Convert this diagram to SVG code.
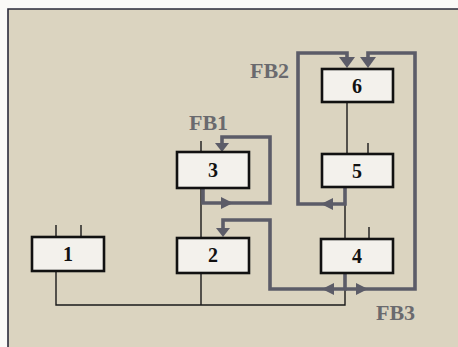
<svg xmlns="http://www.w3.org/2000/svg" width="458" height="347" viewBox="0 0 458 347">
<defs>
<style>
.box{fill:#f3f1ec;stroke:#111;stroke-width:2.6}
.num{font-family:"Liberation Serif",serif;font-weight:bold;font-size:20px;fill:#111;text-anchor:middle}
.lbl{font-family:"Liberation Serif",serif;font-weight:bold;font-size:22px;fill:#6a6a6e}
.thin{fill:none;stroke:#1a1a1a;stroke-width:1.4}
.fb{fill:none;stroke:#5c5c68;stroke-width:3.6;stroke-linejoin:miter}
.ah{fill:#5c5c68}
</style>
</defs>
<rect x="0" y="0" width="458" height="347" fill="#fbfaf7"/>
<rect x="8" y="9" width="450" height="338" fill="#dbd4c0"/>
<path d="M8 347 V9 H458" fill="none" stroke="#2b2b3a" stroke-width="1.6"/>
<g id="connectors">
<path class="thin" d="M56 225 V237 M81 225 V237 M56 271 V305 H345 V273 M201 273 V305 M201 141 V152 M201 188 V238 M369 227 V239 M347 102 V154 M368 143 V154 M345 187 V239"/>
<path class="fb" d="M203 188 V203 H270 V137 H222 V145"/>
<path class="fb" d="M345 273 V289 H270 V220 H223 V230"/>
<path class="fb" d="M345 289 H415 V53 H368 V60"/>
<path class="fb" d="M345 187 V204 H298 V53 H347 V60"/>
<path class="ah" d="M215 143 H229 L222 152 Z"/>
<path class="ah" d="M221 197 L233 203 L221 209 Z"/>
<path class="ah" d="M216 228 H230 L223 237 Z"/>
<path class="ah" d="M334 283 L322 289 L334 295 Z"/>
<path class="ah" d="M356 283 L368 289 L356 295 Z"/>
<path class="ah" d="M333 198 L321 204 L333 210 Z"/>
<path class="ah" d="M339 57 H355 L347 68 Z"/>
<path class="ah" d="M360 57 H376 L368 68 Z"/>
</g>
<g id="node1"><rect class="box" x="32" y="237" width="72" height="34"/><text class="num" x="68" y="261">1</text></g>
<g id="node2"><rect class="box" x="177" y="238" width="72" height="35"/><text class="num" x="213" y="262">2</text></g>
<g id="node3"><rect class="box" x="177" y="152" width="72" height="36"/><text class="num" x="213" y="177">3</text></g>
<g id="node4"><rect class="box" x="321" y="239" width="72" height="34"/><text class="num" x="357" y="263">4</text></g>
<g id="node5"><rect class="box" x="322" y="154" width="71" height="33"/><text class="num" x="357" y="178">5</text></g>
<g id="node6"><rect class="box" x="322" y="69" width="71" height="33"/><text class="num" x="357" y="93">6</text></g>
<g id="labels">
<text class="lbl" x="189" y="130">FB1</text>
<text class="lbl" x="250" y="78">FB2</text>
<text class="lbl" x="376" y="320">FB3</text>
</g>
</svg>
